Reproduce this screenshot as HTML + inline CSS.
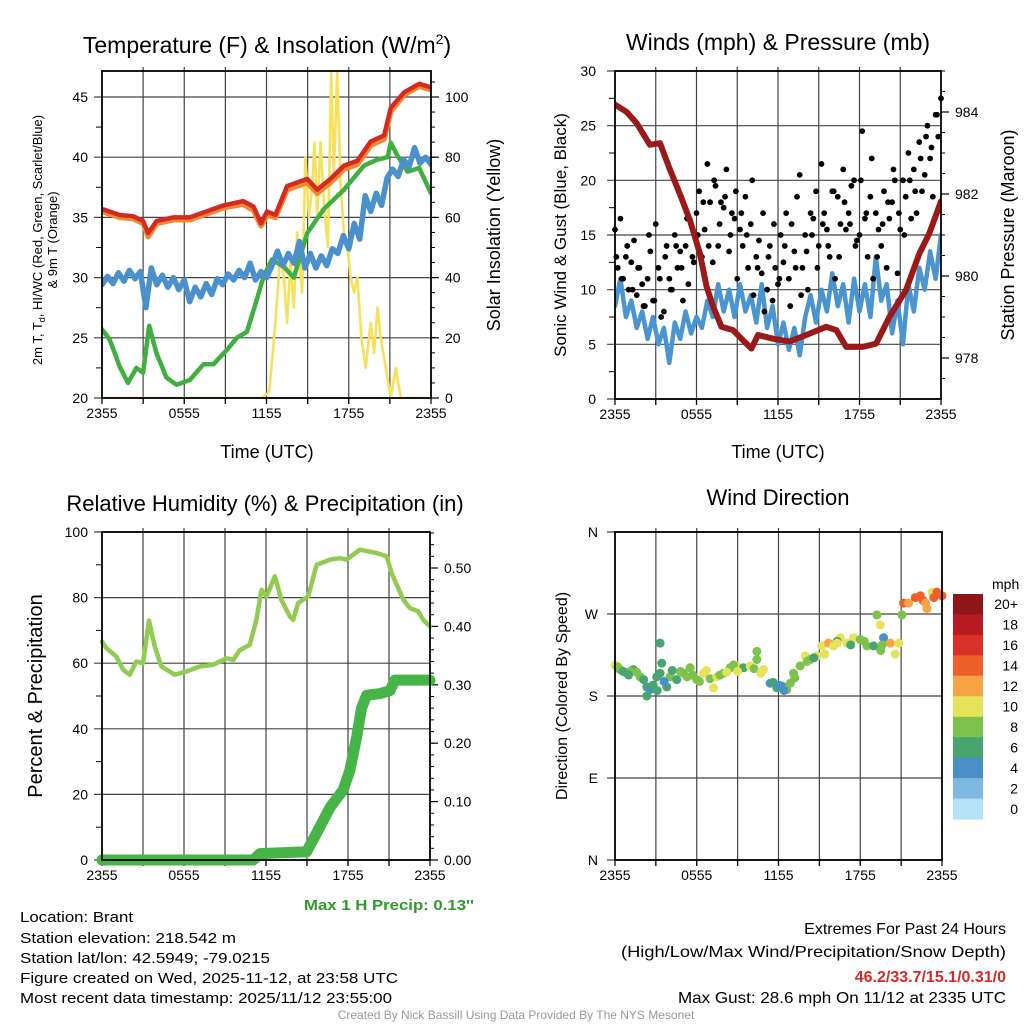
<!DOCTYPE html>
<html><head><meta charset="utf-8"><style>
html,body{margin:0;padding:0;background:#fff;}
svg{display:block;font-family:"Liberation Sans",sans-serif;}
</style></head><body>
<svg id="chart" width="1024" height="1024" viewBox="0 0 1024 1024" xmlns="http://www.w3.org/2000/svg">
<defs>
<clipPath id="c1"><rect x="102" y="71" width="329" height="327"/></clipPath>
<clipPath id="c2"><rect x="615" y="71" width="326" height="328"/></clipPath>
<clipPath id="c3"><rect x="96" y="526" width="340" height="340"/></clipPath>
</defs>
<rect width="1024" height="1024" fill="#fff"/>
<g id="g1"></g>
<g id="g2"></g>
<g id="g3"></g>
<g id="g4"></g>

<text x="267" y="53" font-size="23" text-anchor="middle">Temperature (F) &amp; Insolation (W/m<tspan font-size="14" dy="-9">2</tspan><tspan dy="9">)</tspan></text>
<text x="778" y="50" font-size="23" text-anchor="middle">Winds (mph) &amp; Pressure (mb)</text>
<text x="265" y="511" font-size="22" text-anchor="middle">Relative Humidity (%) &amp; Precipitation (in)</text>
<text x="778" y="505" font-size="22" text-anchor="middle">Wind Direction</text>

<text x="267" y="458" font-size="18" text-anchor="middle">Time (UTC)</text>
<text x="778" y="458" font-size="18" text-anchor="middle">Time (UTC)</text>

<text transform="translate(42,240) rotate(-90)" font-size="13" text-anchor="middle">2m T, T<tspan font-size="9" dy="3">d</tspan><tspan dy="-3">, HI/WC (Red, Green, Scarlet/Blue)</tspan></text>
<text transform="translate(57,240) rotate(-90)" font-size="13" text-anchor="middle">&amp; 9m T (Orange)</text>
<text transform="translate(500,235) rotate(-90)" font-size="18" text-anchor="middle">Solar Insolation (Yellow)</text>
<text transform="translate(566,235) rotate(-90)" font-size="17" text-anchor="middle">Sonic Wind &amp; Gust (Blue, Black)</text>
<text transform="translate(1014,235) rotate(-90)" font-size="18" text-anchor="middle">Station Pressure (Maroon)</text>
<text transform="translate(42,696) rotate(-90)" font-size="20" text-anchor="middle">Percent &amp; Precipitation</text>
<text transform="translate(567,696) rotate(-90)" font-size="16" text-anchor="middle">Direction (Colored By Speed)</text>

<text x="304" y="910" font-size="15" font-weight="bold" fill="#2f9a2a" textLength="170" lengthAdjust="spacingAndGlyphs">Max 1 H Precip: 0.13''</text>

<g font-size="15">
<text x="20" y="922" textLength="113" lengthAdjust="spacingAndGlyphs">Location: Brant</text>
<text x="20" y="943" textLength="216" lengthAdjust="spacingAndGlyphs">Station elevation: 218.542 m</text>
<text x="20" y="963" textLength="250" lengthAdjust="spacingAndGlyphs">Station lat/lon: 42.5949; -79.0215</text>
<text x="20" y="983" textLength="378" lengthAdjust="spacingAndGlyphs">Figure created on Wed, 2025-11-12, at 23:58 UTC</text>
<text x="20" y="1003" textLength="372" lengthAdjust="spacingAndGlyphs">Most recent data timestamp: 2025/11/12 23:55:00</text>
</g>
<g font-size="16" text-anchor="end">
<text x="1006" y="934">Extremes For Past 24 Hours</text>
<text x="1006" y="957" textLength="385" lengthAdjust="spacingAndGlyphs">(High/Low/Max Wind/Precipitation/Snow Depth)</text>
<text x="1006" y="982" font-weight="bold" fill="#d42a2a">46.2/33.7/15.1/0.31/0</text>
<text x="1006" y="1003" textLength="328" lengthAdjust="spacingAndGlyphs">Max Gust: 28.6 mph On 11/12 at 2335 UTC</text>
</g>
<text x="516" y="1019" font-size="12" fill="#999" text-anchor="middle">Created By Nick Bassill Using Data Provided By The NYS Mesonet</text>
</svg>
<script>
// ---------- data ----------
const xTickLabels = ["2355","0555","1155","1755","2355"];
const tempTimes = [0,1.3,2.27,3.0,3.37,3.98,5.2,6.4,7.64,8.86,10.3,11.06,11.6,12.04,12.65,13.5,14.23,14.97,15.7,16.67,17.65,18.63,19.6,20.58,21.07,22.05,23.14,24];
const tempValues = [35.7,35.2,35.1,34.7,33.7,34.7,35.0,35.0,35.5,36.0,36.35,35.9,34.5,35.5,35.2,37.6,37.9,38.2,37.3,38.2,39.3,39.7,41.3,41.8,44.1,45.4,46.1,45.8];
const temp9mValues = [35.5,35.0,34.9,34.5,33.4,34.5,34.8,34.8,35.3,35.8,36.1,35.6,34.3,35.2,35.0,37.3,37.6,37.9,37.0,37.9,39.0,39.4,41.0,41.5,43.8,45.2,45.9,45.6];
const dewTimes = [0,0.56,1.29,1.9,2.51,3.0,3.44,3.98,4.7,5.44,6.42,7.4,8.13,9.11,9.84,10.57,11.3,11.79,12.4,13.26,13.99,14.97,16.19,17.65,19.12,20.1,20.83,21.07,21.56,22.29,23.14,24];
const dewValues = [25.7,24.85,22.6,21.25,22.5,22.1,26.0,23.7,21.7,21.1,21.5,22.8,22.8,24.0,25.0,25.5,28.2,30.1,31.5,30.9,30.0,33.7,35.7,37.3,39.3,39.8,40.0,41.2,40.1,38.8,39.1,37.0];
const hiTimes = [0,0.4,0.8,1.2,1.6,2.0,2.4,2.8,3.2,3.6,4.0,4.4,4.8,5.2,5.6,6.0,6.4,6.8,7.2,7.6,8.0,8.4,8.8,9.2,9.6,10.0,10.4,10.8,11.2,11.6,12.0,12.4,12.8,13.2,13.6,14.0,14.4,14.8,15.2,15.6,16.0,16.4,16.8,17.2,17.6,18.0,18.4,18.8,19.2,19.6,20.0,20.4,20.8,21.2,21.6,22.0,22.4,22.8,23.2,23.6,24];
const hiValues = [29.4,30.1,29.5,30.4,29.7,30.6,29.9,30.5,27.5,30.8,29.4,30.2,29.2,30.0,29.0,29.8,28.0,29.2,28.4,29.5,28.6,29.9,29.4,30.3,29.8,30.6,30.0,31.2,29.8,30.5,30.0,31.0,32.2,31.0,32.0,31.2,33.0,30.8,32.0,30.8,31.8,31.0,32.4,32.0,33.5,32.4,34.5,33.2,36.8,35.5,37.0,36.0,38.3,39.0,38.4,39.8,39.2,40.8,39.5,40.0,39.4];
const solarTimes = [0,11.67,12.2,12.65,13.0,13.26,13.5,13.75,13.99,14.23,14.6,14.84,15.09,15.33,15.5,15.7,15.94,16.19,16.48,16.72,16.92,17.16,17.41,17.65,17.9,18.14,18.38,18.63,18.92,19.24,19.6,19.85,20.1,20.34,20.7,21.07,21.43,21.8,22.29,24];
const solarValues = [0,0,2,25,47,40,25,45,30,55,35,80,60,70,85,60,85,65,50,108,75,108,70,55,50,40,35,40,20,10,25,15,30,20,10,0,10,0,0,0];

const windTimes = hiTimes;
const windValues = [8.5,11.0,7.5,9.0,6.5,8.0,5.5,7.5,5.0,6.5,3.3,7.0,5.5,8.0,6.0,7.5,6.5,9.0,7.5,10.5,8.0,10.0,7.5,10.5,8.0,9.5,7.0,10.5,6.5,8.5,5.0,7.0,4.5,6.5,4.0,7.5,9.5,7.0,10.0,8.0,11.5,8.5,10.5,7.0,11.0,8.0,10.5,7.5,13.0,9.0,10.5,6.0,9.0,5.0,10.5,8.0,12.0,10.0,13.5,11.0,15.0];
const gustValues = [15.5,12,16.5,11,13,10,12.5,14.5,9.5,12,10.5,8.5,11,13.5,9,
16,12,7.5,8,14,11,10,15,12,13.5,9,14,10.5,16,12.5,
17,19,13,15.5,21.5,18,12.5,19.5,14,18,17.5,21,13.5,17,16.5,
11,15.5,14,18.5,12,16,9.5,13,14.5,11.5,8,10,14,9,12,
10.5,15,12.5,17,11,16,13.5,18.5,20.5,12,15,10,17,16.5,19,
14,21.5,17,15.5,13,19,11,18.5,16,21,15.5,17,19.5,20,14.5,
15,24.5,16.5,13,18.5,11,17,15.5,14,19,12,16.5,18,20,11.5,
15.5,20,18.5,22.5,16.5,21,17,23.5,19,20.5,25,22,18.5,26,24,27.5];
const gustValues2 = [13,11,14,10,12,8.5,15,9,11,13,
10,14,12,16.5,13,15,18,14,20,16,
18.5,15,19,17,15,20,12,17,13,16,
11,14,8.5,12,9.5,13.5,15,12,16,14,
19,13,18,16,14,20,17,22,13,16,
18,21,17,15,20,19,22,24,23,26];
const pressTimes = [0,0.86,1.59,2.57,3.31,4.04,4.78,5.51,6.25,6.74,7.23,7.84,8.69,9.43,10.04,10.53,11.63,12.85,14.08,15.55,16.29,17.02,18.24,19.22,20.2,21.43,22.41,23.14,24];
const pressValues = [984.18,984.0,983.73,983.2,983.24,982.6,982.0,981.37,980.55,979.74,979.25,978.76,978.68,978.43,978.23,978.56,978.47,978.4,978.56,978.76,978.68,978.27,978.27,978.35,979.0,979.66,980.55,981.04,981.82];

const rhTimes = [0,0.32,1.05,1.55,2.03,2.51,3.0,3.44,3.86,4.35,5.32,6.18,7.15,8.13,9.11,9.6,10.08,10.81,11.3,11.67,12.04,12.65,13.13,13.74,13.99,14.35,15.09,15.7,16.68,17.41,17.9,18.87,20.09,20.83,21.19,22.05,22.53,23.14,23.51,24];
const rhValues = [66.6,64.6,62,58,56.5,60.5,60,73,65,59,56.5,57.5,59,59.5,61.5,61,64,65.6,73.2,82.4,80.4,86.5,79.3,74.3,73.2,78.3,80.4,90,91.6,92,91.6,94.6,93.6,92.6,87.5,79.3,76.8,75.8,73.2,71.2];
const precipTimes = [0,11.06,11.55,14.97,15.7,16.68,17.65,18.14,18.63,18.99,19.36,20.34,21.07,21.43,24];
const precipValues = [0,0,0.011,0.014,0.046,0.09,0.12,0.154,0.21,0.26,0.282,0.285,0.29,0.308,0.308];

const dirTimes = [0,0.37,0.86,1.35,1.84,2.33,2.57,3.06,3.43,3.31,3.8,4.04,4.53,5.02,5.51,6.0,6.49,6.98,7.47,7.96,8.45,8.94,9.43,9.92,10.41,10.9,11.39,11.88,12.25,12.61,12.86,13.1,13.59,13.96,14.33,14.82,15.18,15.67,16.04,16.53,17.02,17.51,18.0,18.49,18.98,19.22,19.47,19.71,20.2,20.57,20.82,21.06,21.18,21.55,22.04,22.41,22.9,23.27,23.63,24,3.31,10.41,7.23,2.33,1.1,5.3,8.7,16.3,19.5,22.6,
0.2,0.6,1.0,1.6,2.1,2.8,3.1,3.6,4.2,4.8,5.7,6.2,6.7,7.7,8.2,9.0,10.2,10.7,11.6,12.0,12.4,13.2,14.1,14.6,15.4,16.3,17.3,18.3,19.6,22.8,23.4];
const dirValues = [214,209,205,209,201,190,187,201,216,205,190,201,198,205,211,198,205,199,201,205,211,213,211,213,220,209,194,189,191,187,194,205,213,224,220,224,235,238,235,244,238,244,242,235,235,269,258,244,238,226,238,269,282,282,288,290,276,294,294,290,238,229,189,180,207,201,214,240,230,285,
212,207,203,206,198,192,186,196,208,207,203,196,208,203,206,207,210,205,195,192,186,200,218,222,226,238,236,240,236,282,288];
const dirSpeeds = [9,8,7,6,7,6,4,6,5,5,5,8,6,7,8,7,10,8,9,7,8,10,6,9,8,9,4,6,4,7,8,8,8,9,7,10,9,12,9,10,10,9,8,7,6,8,9,4,12,10,9,8,14,12,13,14,11,10,14,14,6,8,9,6,7,7,7,6,7,13,
8,6,6,8,6,6,6,4,6,8,8,8,10,8,10,10,8,10,6,4,4,8,8,6,10,10,6,8,8,12,14];

// ---------- helpers ----------
const NS = "http://www.w3.org/2000/svg";
function el(parent, tag, attrs){
  const e = document.createElementNS(NS, tag);
  for (const k in attrs) e.setAttribute(k, attrs[k]);
  parent.appendChild(e);
  return e;
}
function makeScale(d0,d1,r0,r1){ return v => r0 + (v-d0)/(d1-d0)*(r1-r0); }
function pathFrom(ts, vs, xs, ys){
  let d = "";
  for (let i=0;i<ts.length;i++) d += (i?"L":"M") + xs(ts[i]).toFixed(1) + "," + ys(vs[i]).toFixed(1);
  return d;
}
function frame(g, P){
  for (let h=3; h<24; h+=3){
    const x = P.xs(h);
    const ln = el(g,"line",{x1:x,x2:x,y1:P.y0-4,y2:P.y1+6,stroke:"#444","stroke-width":1.2});
    
    
  }
  for (let h=0; h<=24; h+=3){
    const x = P.xs(h);
    const tk = el(g,"line",{x1:x,x2:x,y1:P.y1,y2:P.y1+6,stroke:"#000","stroke-width":1.2});
    
    
  }
  xTickLabels.forEach((lab,i)=>{
    const t = el(g,"text",{x:P.xs(i*6),y:P.y1+20,"font-size":14,"text-anchor":"middle"});
    t.textContent = lab;
    
    
  });
}
function hgrid(g, P, vals, ys, labels, lx){
  vals.forEach((v,i)=>{
    const y = ys(v);
    const ln = el(g,"line",{x1:P.x0-8,x2:P.x1,y1:y,y2:y,stroke:"#444","stroke-width":1.2});
    
    
    const t = el(g,"text",{x:lx,y:y+5,"font-size":14,"text-anchor":"end"});
    t.textContent = labels[i];
    
    
  });
}
function minorTicks(g, x, vals, ys, len){
  vals.forEach(v=>{
    const y = ys(v);
    const ln = el(g,"line",{x1:x,x2:x+len,y1:y,y2:y,stroke:"#000","stroke-width":1});
    
    
  });
}
function rightLabels(g, x, vals, ys, labels){
  vals.forEach((v,i)=>{
    const y = ys(v);
    const ln = el(g,"line",{x1:x,x2:x+8,y1:y,y2:y,stroke:"#000","stroke-width":1.2});
    
    
    const t = el(g,"text",{x:x+14,y:y+5,"font-size":14});
    t.textContent = labels[i];
    
    
  });
}
function box(g,P){
  const r = el(g,"rect",{x:P.x0,y:P.y0,width:P.x1-P.x0,height:P.y1-P.y0,fill:"none",stroke:"#000","stroke-width":1.8});
  
  
}
function line(g, ts, vs, xs, ys, color, w, name, clip){
  const p = el(g,"path",{d:pathFrom(ts,vs,xs,ys),fill:"none",stroke:color,"stroke-width":w,"stroke-linejoin":"round","stroke-linecap":"round"});
  if (clip) p.setAttribute("clip-path","url(#"+clip+")");
  
  
  return p;
}
function range(a,b,s){ const r=[]; for(let v=a; v<=b+1e-9; v+=s) r.push(+v.toFixed(4)); return r; }

// ---------- panel 1 ----------
(function(){
  const g = document.getElementById("g1");
  const P = {x0:102,x1:431,y0:71,y1:398};
  P.xs = makeScale(0,24,P.x0,P.x1);
  const ys = makeScale(20,45,398,97);
  const ysR = makeScale(0,100,398,97);
  frame(g,P);
  hgrid(g,P,[20,25,30,35,40,45],ys,["20","25","30","35","40","45"],88);
  minorTicks(g,P.x0-6,range(22.5,47,5),ys,6);
  minorTicks(g,P.x1,range(0,108,5),ysR,4);
  rightLabels(g,P.x1,[0,20,40,60,80,100],ysR,["0","20","40","60","80","100"]);
  line(g,solarTimes,solarValues,P.xs,ysR,"#f8e15a",2.6,"solar-insolation-line","c1");
  line(g,dewTimes,dewValues,P.xs,ys,"#3fb040",4.5,"dewpoint-line","c1");
  line(g,hiTimes,hiValues,P.xs,ys,"#4a90cc",5.5,"heat-index-windchill-line","c1");
  line(g,tempTimes,temp9mValues,P.xs,ys,"#f08a30",5.5,"temperature-9m-line","c1");
  line(g,tempTimes,tempValues,P.xs,ys,"#d42a22",4.5,"temperature-2m-line","c1");
  box(g,P);
})();

// ---------- panel 2 ----------
(function(){
  const g = document.getElementById("g2");
  const P = {x0:615,x1:941,y0:71,y1:399};
  P.xs = makeScale(0,24,P.x0,P.x1);
  const ys = makeScale(0,30,399,71);
  const ysP = makeScale(978,984,358,112);
  frame(g,P);
  hgrid(g,P,[0,5,10,15,20,25,30],ys,["0","5","10","15","20","25","30"],596);
  minorTicks(g,P.x0-6,range(2.5,27.5,5),ys,6);
  minorTicks(g,P.x1,range(977.5,985,0.5),ysP,4);
  rightLabels(g,P.x1,[978,980,982,984],ysP,["978","980","982","984"]);
  line(g,windTimes,windValues,P.xs,ys,"#4a94d0",4.5,"sonic-wind-line","c2");
  gustValues.forEach((v,i)=>{
    const c = el(g,"circle",{cx:P.xs(i*0.2),cy:ys(v),r:2.9,fill:"#000"});
    
    
  });
  gustValues2.forEach((v,i)=>{
    const c = el(g,"circle",{cx:P.xs(0.1+i*0.4),cy:ys(v),r:2.9,fill:"#000"});
    
    
  });
  line(g,pressTimes,pressValues,P.xs,ysP,"#9a1a1a",6,"station-pressure-line","c2");
  box(g,P);
})();

// ---------- panel 3 ----------
(function(){
  const g = document.getElementById("g3");
  const P = {x0:102,x1:430,y0:532,y1:860};
  P.xs = makeScale(0,24,P.x0,P.x1);
  const ys = makeScale(0,100,860,532);
  const ysR = makeScale(0,0.5,860,568);
  frame(g,P);
  hgrid(g,P,[0,20,40,60,80,100],ys,["0","20","40","60","80","100"],88);
  minorTicks(g,P.x0-6,range(10,90,20),ys,6);
  minorTicks(g,P.x1,range(0,0.56,0.02),ysR,4);
  rightLabels(g,P.x1,[0,0.1,0.2,0.3,0.4,0.5],ysR,["0.00","0.10","0.20","0.30","0.40","0.50"]);
  line(g,rhTimes,rhValues,P.xs,ys,"#8fcc4f",4.5,"relative-humidity-line");
  line(g,precipTimes,precipValues,P.xs,ysR,"#46b446",11,"precipitation-line","c3");
  box(g,P);
})();

// ---------- panel 4 ----------
const binColors = ["#b5e2f7","#7eb9e3","#4a8fc6","#48a56f","#7cc24c","#e6e35a","#f6a444","#ef5f2b","#d93127","#b81b22","#8e1518"];
const binLabels = ["0","2","4","6","8","10","12","14","16","18","20+"];
(function(){
  const g = document.getElementById("g4");
  const P = {x0:615,x1:942,y0:532,y1:860};
  P.xs = makeScale(0,24,P.x0,P.x1);
  const ys = makeScale(0,360,860,532);
  frame(g,P);
  hgrid(g,P,[0,90,180,270,360],ys,["N","E","S","W","N"],598);
  dirTimes.forEach((t,i)=>{
    const idx = Math.min(10, Math.round(dirSpeeds[i]/2));
    const c = el(g,"circle",{cx:P.xs(t),cy:ys(dirValues[i]),r:4.5,fill:binColors[idx]});
    
    
  });
  box(g,P);
  const lg = el(g,"g",{});
  
  
  const top = 594, bh = 225/11;
  const u = el(lg,"text",{x:992,y:589,"font-size":14});
  u.textContent = "mph";
  
  
  for (let k=0;k<11;k++){
    const idx = 10-k;
    const r = el(lg,"rect",{x:953,y:top+k*bh,width:30,height:bh+0.5,fill:binColors[idx]});
    
    
    const t = el(lg,"text",{x:1018,y:top+k*bh+bh/2+5,"font-size":14,"text-anchor":"end"});
    t.textContent = binLabels[idx];
    
    
  }
})();
</script>
</body></html>
